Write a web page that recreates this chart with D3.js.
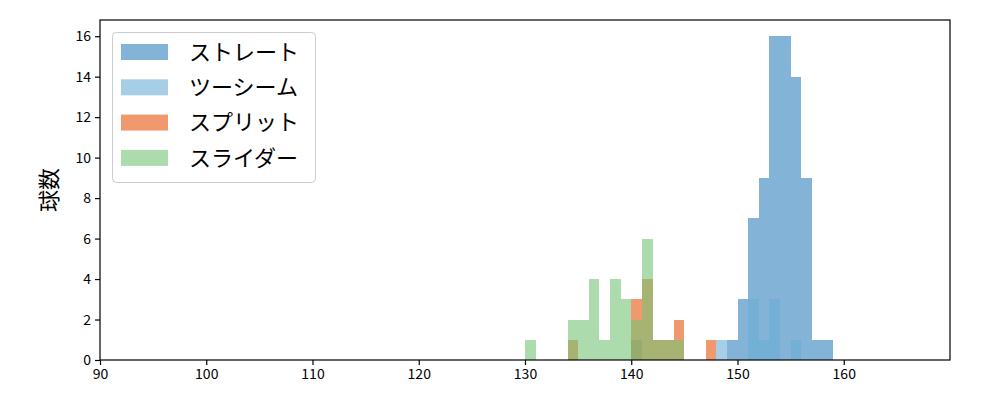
<!DOCTYPE html>
<html><head><meta charset="utf-8">
<script src="https://cdn.jsdelivr.net/npm/d3@7"></script>
<style>body{margin:0;background:#fff}svg{display:block}</style>
</head><body>
<svg id="c" width="1000" height="400"></svg>
<script>
// Data: bin lower edges (km/h, bin width 1) and counts per pitch type
const seriesNames = ["ストレート", "ツーシーム", "スプリット", "スライダー"];
const straightBins = [149,150,151,152,153,154,155,156,157,158];
const straightCounts = [1,3,7,9,16,16,14,9,1,1];
const twoSeamBins = [140,148,151,152,153,155];
const twoSeamCounts = [1,1,3,1,3,1];
const splitBins = [134,140,141,142,143,144,147];
const splitCounts = [1,3,4,1,1,2,1];
const sliderBins = [130,134,135,136,137,138,139,140,141,142,143,144];
const sliderCounts = [1,2,2,4,1,4,3,2,6,1,1,1];
const xTicks = [90,100,110,120,130,140,150,160];
const yTicks = [0,2,4,6,8,10,12,14,16];
const colors = ["#3182bd","#6baed6","#e6550d","#74c476"];

const svg = d3.select("#c");
const L=100,R=950,T=20,B=360;
const x = d3.scaleLinear().domain([90,170]).range([L,R]);
const y = d3.scaleLinear().domain([0,16.8]).range([B,T]);
const font = "'Noto Sans CJK JP', 'DejaVu Sans', sans-serif";

const series = [
  {bins: straightBins, counts: straightCounts},
  {bins: twoSeamBins, counts: twoSeamCounts},
  {bins: splitBins, counts: splitCounts},
  {bins: sliderBins, counts: sliderCounts}
];

series.forEach((s,i)=>{
  const data = s.bins.map((b,j)=>({x0:b,x1:b+1,c:s.counts[j]}));
  svg.append("g").attr("shape-rendering","crispEdges").selectAll("rect").data(data).join("rect")
    .attr("x", d=>x(d.x0)).attr("width", d=>x(d.x1)-x(d.x0))
    .attr("y", d=>y(d.c)).attr("height", d=>y(0)-y(d.c))
    .attr("fill", colors[i]).attr("fill-opacity", 0.6);
});

// axes
const xa = svg.append("g").attr("transform",`translate(0,${B})`)
  .call(d3.axisBottom(x).tickValues(xTicks).tickSize(5).tickPadding(4).tickFormat(d3.format("d")));
const ya = svg.append("g").attr("transform",`translate(${L},0)`)
  .call(d3.axisLeft(y).tickValues(yTicks).tickSize(5).tickPadding(4).tickFormat(d3.format("d")));
[xa,ya].forEach(a=>{
  a.select(".domain").remove();
  a.selectAll("line").attr("stroke","#000").attr("stroke-width",1.2);
  a.selectAll("text").attr("font-family",font).attr("font-size",14).attr("fill","#000");
});
svg.append("rect").attr("x",L).attr("y",T).attr("width",R-L).attr("height",B-T)
  .attr("fill","none").attr("stroke","#000").attr("stroke-width",1.2);

// y label
svg.append("text").attr("transform",`translate(57,${(T+B)/2}) rotate(-90)`)
  .attr("text-anchor","middle").attr("font-family",font).attr("font-size",22).text("球数");

// legend
const lg = svg.append("g");
lg.append("rect").attr("x",112.5).attr("y",32.5).attr("width",203).attr("height",150)
  .attr("rx",4).attr("fill","#fff").attr("fill-opacity",0.8).attr("stroke","#ccc");
seriesNames.forEach((n,i)=>{
  const cy = 52 + i*35.3;
  lg.append("rect").attr("x",121).attr("y",cy-8).attr("width",47).attr("height",16)
    .attr("fill",colors[i]).attr("fill-opacity",0.6);
  lg.append("text").attr("x",189).attr("y",cy).attr("dy","0.35em")
    .attr("font-family",font).attr("font-size",22).text(n);
});
</script>
</body></html>
